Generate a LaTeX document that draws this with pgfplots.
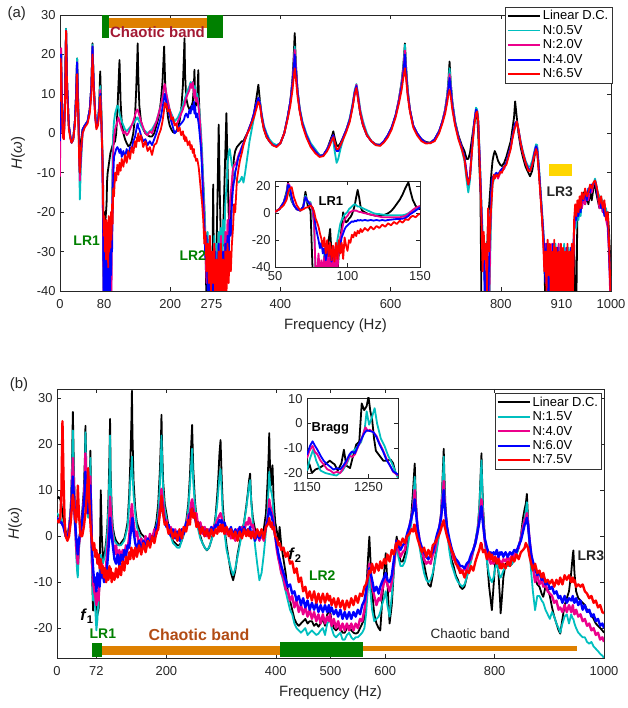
\documentclass[border=0pt]{standalone}
\usepackage{pgfplots}
\usepackage{pgfplotstable}
\pgfplotsset{compat=1.18}
\usepackage{fontspec}
\setmainfont{Liberation Sans}

\definecolor{mcyan}{rgb}{0,0.75,0.75}
\definecolor{mgreen}{rgb}{0,0.5,0}
\definecolor{morange}{rgb}{0.87,0.5,0}
\definecolor{mcrimson}{rgb}{0.64,0.1,0.2}
\definecolor{mbrown}{rgb}{0.7,0.3,0.08}
\definecolor{myellow}{rgb}{1,0.84,0}

\pgfplotsset{
  ln/.style={line width=1.8pt, line join=round},
  nz/.style={line width=2.4pt, line join=round},
  mat/.style={
    scale only axis, anchor=south west,
    axis line style={black!85, line width=0.5pt},
    tick style={black!85, line width=0.5pt},
    major tick length=4bp,
    tick align=inside,
    ticklabel style={font=\fontsize{13}{13}\selectfont, text=black!85},
    xticklabel style={yshift=-5bp},
    yticklabel style={xshift=-1bp},
    /pgf/number format/assume math mode=true,
    /pgf/number format/1000 sep={},
    label style={font=\fontsize{15}{15}\selectfont, text=black!85},
    xlabel style={yshift=-3bp},
    ylabel style={yshift=5bp},
    axis background/.style={fill=white},
    legend style={font=\fontsize{13}{15}\selectfont, draw=black!80, line width=0.5pt,
      inner sep=1.5bp, row sep=0bp, cells={anchor=west}},
    legend image code/.code={\draw[#1, line width=1.8pt] (0bp,0bp) -- (32bp,0bp);},
  },
  insetax/.style={mat, xticklabel style={yshift=4bp}},
}

% panel (a): frequency, linear D.C., N:0.5V, N:2.0V, N:4.0V, N:6.5V
\pgfplotstableread{
x lin c m b r
0 -2 -1 -11 -2 8
1 8 10 14 10 19
2 20 21 21.6 20 17
3 10 12 11 10 8
5 0 1 0 0 -1
7 -1 -1 -1.5 -1 -1.5
9 8 8 8 8 6
11 26.5 26.5 26 26 26
13 12 12 12 12 10
16 2 2 2 2 1
19 -1 -1 -1 -1 -1.5
21 -2.4 -2.4 -2.4 -2.4 -2.4
24 -1.5 -1.5 -1.5 -1.5 -1.5
27 3 3 3 3 2
29 9 9 9 9 7
31 19 19 18 18 15
33 8 8 7 7 5
35 -4 -8 -6 -5 -8
36 -6 -16.8 -12 -10 -10
38 -2 -8 -6 -5 -4
41 1 0 0 1 0
45 2 2 2 2 1.5
50 3 3 3 3 2.5
54 6 6 6 6 5
57 12 12 12 12 10
59 22.8 22.5 22 22 20
61 13 13 13 13 12
64 5 5 4 4 4
66 2 2 1.5 1.5 1
69 3 3 3 3 2
71 7 7 6 6 5
73 15.7 12 11 10 9.4
75 6 5 4 3 3
77 -5 -6 -6 -7 -6
78.5 -15 -25 -30 -28 -20
79.5 -45 -45 -45 -45 -26
80.5 -20 -45 -30 -35 -21
81.5 -25 -45 -45 -28 -30
82.5 -22 -45 -38 -45 -23
83.5 -20 -45 -45 -33 -32
84.5 -18 -45 -30 -45 -22
85.5 -12 -45 -45 -30 -28
86.5 -10 -45 -35 -45 -24
87.5 -9 -45 -45 -32 -34
88.5 -8 -45 -34 -45 -21
89.5 -7 -45 -45 -30 -30
90.5 -6 -45 -36 -45 -22
91.5 -5 -45 -45 -28 -29
92.5 -4.5 -45 -30 -36 -20
93.5 -4 -30 -40 -26 -27
94.5 -3.5 -15 -22 -30 -18
95.5 -3 -5 -12 -20 -23
96.5 -3 0 -5 -12 -14
98 -2.5 3 -1 -6 -16
100 -2 5 1 -5 -10
102 0 6 2 -4 -12
104 5 7 3 -3.5 -8
106 12 6.8 4 -4 -10.5
108 18.6 5 3 -5 -7.5
110 8 4 2 -4 -9.5
112 3 3 1 -6 -6.5
115 0 2 0 -4.5 -8.5
118 -1.5 1 0.5 -6 -5.5
121 -2.5 0.5 -0.5 -4 -7.5
124 -3.3 1 0 -5.5 -4.5
127 -3 1.5 1 -3.5 -6.5
130 -2 2 2 -4 -3.5
133 0 2.5 3 -2 -5
136 4 3 4.5 -1 -2
138 10 3.5 5.5 0.5 -3.5
140 18 4 6 2 -1
141 22.8 4 6 2.5 -2
142 15 3.5 5.5 1.5 0
144 7 3 4.5 1 -2
147 3 2 3 -0.5 -0.5
151 1 1 1.5 -2 -3.5
155 0 0.5 0 -1.5 -2
159 -0.5 0 -0.5 -3 -4.5
163 -0.8 0.5 0.5 -2 -3.5
167 -0.8 1 0 -3 -5.5
171 0 2 1.5 -1.5 -3
175 2 3 3 0 -2.5
179 4 5 5 2 -0.5
183 8 7 7 4 1
186 13 9 9 6.5 3
188 19 11 11 8 5
189 22 12 12 9 6
190 17 12 12.5 10 7.7
191 12 11.5 12 9.5 6.5
193 8 10 10 8 7.5
196 4 8 8 6 5.5
199 2 6 6 4.5 6
202 1 5 4.5 3 3.5
205 0.3 4 3 1.5 4
208 0.1 3 2.5 0 2
211 0.5 3.5 2 0.5 2.5
214 1.5 4 3 1 0.5
217 3 5 4 2 1.5
220 6 6 5 2.5 -0.5
223 12 7 6 3 0.5
225 20 8 7 3.5 -1.5
226 24.1 8.5 7 4 -0.5
227 15 9 8 4.5 -2
229 9 10 9 5 -1
232 7 11 10 4 -3
235 6 12 11 6 -2
237 6.5 13 12.5 5 -4
239 7 12 11.5 7 -3
241 8 13 13 6 -5
243 12 11 10 8 -4
244 16.1 10 9 5 -6
245 10 12 11 7 -5.5
247 7 9 8 4 -7
249 9 10 9 5 -6.5
251 16 8 7 3 -8
252 9 7 6 2 -9
254 3 4 3 -1 -12
256 -2 0 -2 -4 -15
258 -8 -5 -8 -10 -18
260 -13 -12 -15 -18 -22
262 -20 -18 -22 -25 -28
264 -28 -26 -30 -32 -25
266 -45 -32 -38 -26 -35
268 -45 -25 -28 -40 -28
270 -45 -36 -40 -30 -38
272 -45 -28 -26 -45 -26
274 -45 -38 -45 -32 -40
276 -45 -30 -30 -45 -30
278 -13 -40 -42 -34 -38
280 -45 -26 -28 -45 -28
282 -45 -36 -45 -30 -45
284 -30 -28 -32 -45 -32
286 -15 -34 -45 -36 -45
288 2.2 -25 -28 -28 -30
290 -15 -32 -40 -45 -42
292 -28 -24 -26 -32 -28
294 -32 -30 -45 -45 -45
296 -26 -22 -30 -30 -32
298 -15 -28 -38 -42 -45
300 -5 -18 -25 -28 -30
302 5.1 -14 -32 -36 -42
304 -8 -8 -22 -26 -28
306 -20 -5 -28 -32 -38
308 -25 -4 -18 -22 -30
310 -22 -6 -15 -26 -35
312 -14 -8 -12 -18 -28
314 -9 -9 -9 -14 -24
316 -6 -10 -8 -12 -18
318 -4.5 -11 -8 -10 -20
321 -3.5 -12 -7 -8 -12
324 -3 -12.5 -5.5 -6 -9
327 -2.5 -12 -4.5 -5 -6.6
330 -2 -11 -3.5 -3.5 -5
333 -2 -12.5 -2.5 -2.5 -3
336 -1 -10 -1.5 -1.5 -1.6
340 0 -6 0 0 0
344 1.5 -2 1.5 1.5 1
348 3 1 3 3 2.6
352 5 4 5 5 4
356 8.5 7 7.5 7.5 6
360 12.3 9 9 9 8
363 8 8 7.5 7.5 7
366 4 5 4.5 4.5 4
370 1 2 1.5 1.5 1
375 -1 0 -0.5 -0.5 -1
380 -2 -1.5 -2 -2 -2
386 -3 -2.5 -3 -3 -3
393 -3.3 -3 -3.3 -3.3 -3.5
400 -2.5 -2.5 -2.5 -2.5 -2.5
407 0 0 0 0 0
413 4 4 4 4 3.5
418 8 8 8 8 7
422 14 13 13 12.5 11
424 19 17 17 16 14
426 25.4 22 21.2 20 16.5
428 18 17 17 16 14
431 11 11 11 10.5 9.5
435 6 6.5 6 6 5.5
440 2.5 3 2.5 2.5 2
447 -0.5 0 -0.5 -0.5 -1
455 -3 -2.5 -3 -3 -3.5
463 -4.5 -4 -4.5 -4.5 -5
471 -5.5 -5.5 -5.8 -5.8 -6
478 -5.5 -5.5 -5.5 -5.5 -5.8
485 -4 -4 -4 -4 -4.5
490 -2 -2.5 -2.5 -2.5 -3
494 -0.5 -1.5 -1 -1 -1.5
496 0.5 -2 -0.5 -0.5 -1
499 -1.5 -5 -3 -3 -2.5
502 -3 -7.5 -4.5 -4.5 -4
505 -3.3 -6.5 -4.5 -4.5 -4
509 -2.5 -4 -3 -3 -3
514 -1 -1.5 -1 -1 -1.5
520 1 1 1 1 0.5
526 3.5 4 3.5 3.5 3
531 7 7.5 7 7 6.5
535 10.5 11 10.5 10.5 10
538 12 12.5 12.3 12 11.5
541 9 10 9.5 9 8.5
545 5 6 5.5 5 5
550 2 3 2.5 2 2
557 -0.5 0 -0.5 -0.5 -0.5
565 -2 -2 -2 -2 -2
573 -2.8 -3 -2.9 -2.9 -3
581 -2.9 -3 -3 -3 -3.2
588 -2 -2 -2 -2 -2.3
595 -0.5 -0.5 -0.5 -0.5 -1
602 1.5 1.5 1.5 1.5 1
609 4.5 4.5 4.5 4.5 4
615 8.5 8.5 8.5 8 7.5
620 13 13 12.5 12 11
623 17 16.5 16 15 14
626 22.8 22.5 21 20 16.5
628 17 17 16 15.5 14
631 11 11 10.5 10 9.5
635 6 6 6 6 5.5
641 2 2 2 2 1.5
648 0 0 0 0 -0.5
656 -1.5 -1.5 -1.5 -1.5 -2
664 -2.2 -2.4 -2.4 -2.4 -2.6
672 -2.4 -2.5 -2.5 -2.5 -2.5
680 -1.5 -1.5 -1.5 -1.5 -2
688 0.5 0.5 0.5 0.5 0
694 3 3 3 3 2.5
699 6 6 6 5.5 5
703 10 10 9.5 9 8
705 13.5 13 12 11.5 10
707 18.2 16.5 15 14 11
709 13 13 12 11.5 9.5
712 8 8 7.5 7 6
717 3 3 2.5 2.5 2
723 -0.5 -1 -1 -1 -1.5
729 -3 -4 -3.5 -3.5 -4
734 -4.5 -7 -6 -6 -6.5
738 -6.5 -12 -10 -10 -11
741 -6.5 -15 -13 -13 -13
744 -5 -12 -11 -11 -11
748 -1 -4 -3 -3 -4
752 3 3 3 3 2
755 4.5 6.5 6 6 5
757 4.7 6 5.5 5.5 5.5
759 0 4 3 3 3
761 -8 -3 -4 -4 -5
763 -15 -10 -12 -12 -13
765 -45 -18 -20 -20 -22
767 -45 -25 -30 -28 -35
769 -45 -32 -26 -30 -25
771 -45 -38 -40 -42 -32
773 -45 -45 -30 -35 -28
775 -30 -45 -45 -45 -40
777 -22 -45 -38 -45 -19
779 -18 -45 -45 -30 -30
781 -14 -30 -25 -22 -22
783 -10 -18 -15 -14 -18
785 -7 -13 -12 -11 -13
787 -5.5 -12 -11 -11.5 -10.5
789 -4.5 -11 -11 -10.5 -11.5
792 -5.5 -10.5 -10.5 -10 -10.5
795 -7 -11 -11.5 -10.5 -11
799 -8 -10 -10 -9.5 -9.8
802 -8.3 -9.5 -9.5 -9 -10
806 -7.5 -9 -9 -8.5 -8.5
810 -6 -7.5 -7.5 -7.5 -8
814 -4 -5.5 -5.5 -5.5 -6
818 -2 -3.5 -3.5 -3.5 -4
821 1 -1 -1 -1 -1.5
824 4 1 1 1 0.5
826 8.1 2.5 2.5 2.5 1.5
829 4 3 3 3 3
832 0 1 1 1 1
836 -3.5 -2 -2.5 -2.5 -2.5
840 -6 -4.5 -5 -5 -5
845 -8.5 -7 -7.5 -7.5 -7.5
850 -10 -8.5 -9 -9 -9.5
853 -10.9 -8.5 -9.5 -9.5 -9.6
857 -9.5 -7 -8 -8 -8
861 -6 -4.5 -5 -5 -5.5
864 -3.3 -2.8 -3.3 -3.3 -4
866 -4 -3 -4 -4 -5
869 -9 -8 -9 -9 -10
872 -15 -14 -15 -15 -16
875 -22 -20 -21 -21 -22
877 -26 -24 -25 -25 -28
879 -32 -30 -34 -30 -35
881 -45 -36 -28 -38 -30
883 -45 -30 -38 -28 -40
885 -45 -42 -30 -45 -27
887 -45 -28 -45 -32 -36
889 -45 -38 -32 -45 -28
891 -45 -30 -42 -30 -45
893 -45 -45 -28 -40 -30
895 -45 -32 -45 -28 -42
897 -45 -40 -30 -45 -27
899 -45 -28 -45 -32 -45
901 -45 -45 -33 -45 -29
903 -45 -31 -45 -29 -40
905 -45 -42 -28 -45 -30
907 -45 -29 -45 -33 -45
909 -45 -45 -31 -45 -28
911 -45 -32 -45 -30 -42
913 -45 -40 -30 -45 -29
915 -45 -28 -45 -31 -45
917 -45 -45 -32 -45 -30
919 -45 -30 -45 -29 -40
921 -45 -40 -30 -45 -28
923 -45 -29 -45 -33 -45
925 -45 -45 -32 -45 -30
927 -45 -31 -45 -29 -42
929 -45 -41 -30 -45 -28
931 -45 -30 -38 -31 -40
933 -28 -26 -25 -24 -22
935 -45 -20 -22 -20 -18
937 -45 -24 -19 -22 -21
939 -20 -18 -21 -19 -17
941 -18 -22 -18 -21 -20
943 -20 -17 -20 -17 -16
945 -16 -21 -17 -20 -19
947 -19 -16 -19 -16 -15
950 -15 -17 -16.7 -17 -16.7
953 -18 -15 -18 -15 -14
956 -16 -17 -15 -17 -16
959 -18 -14 -17 -14 -15
962 -15 -15 -14 -15 -13
965 -17 -13 -15 -13 -14
968 -14 -13 -13 -13 -12.5
971 -13 -11.5 -12 -12 -12
973 -15 -13 -13 -13 -13
976 -17 -15 -16 -16 -15
979 -19 -16 -19 -17 -18
982 -16 -18 -17 -19 -16
985 -20 -17 -20 -18 -19
988 -18 -20 -18 -21 -17
991 -21 -19 -21.9 -20 -22
994 -20 -22 -24 -22 -20
996 -24 -28 -30 -28 -26
998 -30 -35 -38.7 -36 -35
1000 -35 -42 -45 -40 -45
}\tabA

% inset of (a), 50-150 Hz
\pgfplotstableread{
x lin c m b r
50 1 1 1 1 1
53 3 3 3 3 3
56 8 8 8 8 6
58 16 15 14 14 10
59 23 22 22 21 15
60 15 17 21 20 18
61.5 9 10 12 12 19.4
63 6 6 6 6 12
65 3 3 3 3 6
67.5 2 2 2 2 2
69.5 5 5 5 5 3
71 16 13 12 12 4
72.5 6 8 9 9 4.5
74.5 2 8.3 7 6 5.8
76 -45 0 2 4 4
77 -45 -10 -8 0 1
78 -45 -45 -45 -10 -4
79 -45 -45 -45 -15 -6.7
80 -45 -45 -30 -20 -10
81 -45 -45 -45 -26 -15
82 -45 -45 -35 -22 -19
83 -45 -45 -45 -30 -25
84 -45 -30 -32 -26 -18
85 -45 -45 -45 -35 -30
86 -28 -28 -30 -25 -20
87 -20 -45 -45 -32 -32
88 -11.7 -32 -28 -24 -22
89 -30 -45 -45 -36 -35
90 -45 -26 -30 -26 -24
91 -45 -45 -45 -32 -36
92 -45 -30 -32 -24 -22
93 -45 -20 -45 -30 -34
94 -30 -14 -25 -22 -20
95 -20 -8 -18 -24 -30
96 -10 -5 -14 -18 -22
97 0.7 -3 -8 -15 -34
98 -4 -1 -5 -12 -18
99 -6.7 0 -3 -10 -24
100 -6 1 -2 -9 -28
101 -4 3 0 -8 -20
102 -3 4 1 -7 -22
103 -1 5 1.5 -6 -16
104 2 6 2 -6.5 -18
105 6 6.8 1.9 -5.5 -14
106 12 6 2 -6 -17
107 17.4 5 1.5 -5 -13
108 12 5 1 -5.5 -15
109 5 4.5 1 -5 -11.7
110 2 4 0.5 -5.5 -14
112 0.7 3 0 -5 -11
114 -0.5 2 -0.5 -5.5 -13
116 -1 1 -1 -5 -10
118 -1.5 0 -1.5 -5.5 -12
120 -2 -0.5 -2 -5 -9.5
122 -1.9 -0.6 -2.5 -5.5 -11
124 -1.5 -1 -3 -5 -8.5
126 -1 -1.2 -3 -5.5 -10
128 0 -1.5 -3 -5 -7.5
130 1.5 -1.5 -3 -4.8 -9
132 4 -1.5 -3 -4.5 -6.5
134 7 -1.5 -3 -4.3 -8
136 10 -1.5 -3 -4.3 -5.6
138 14 -1.5 -2.5 -4 -7
140 19 -1 -2 -3.5 -4.5
142 23 0 -0.5 -2 -5
143.5 16 1 1 -0.5 -3
145 10 2 2.5 0.5 -1.9
147 5.5 3 4 2 -3
149 3.5 4 5 3.5 -0.8
150 3 4.3 5.5 4.3 -0.6
}\tabAi

% panel (b): frequency, linear D.C., N:1.5V, N:4.0V, N:6.0V, N:7.5V
\pgfplotstableread{
x lin c m b r
0 8.2 5 4 4 3.5
3 8.5 4.5 3.5 3.5 3
6 8 4 3 3 4
8 7 3.5 3 3 9
10 5 3 2.5 2.5 25
12 3.5 2.5 2 2 12
14 2 1.5 1 1 3
16 1 0.5 0 0 0
19 0.5 0 -0.5 -0.5 -1
22 2 2 1.5 1 0
25 6 6 5 4 3
27 13 11 9 8 6
29 27 23 17 13 9
31 14 12 10 8 7
33 5 3 3 3 4
35 -1 -4 -2 0 3
37 -6 -8 -5 -3 6
38 -8 -9 -6 -4 11
40 -2 -3 -2 -1 5
43 2 1 1 1 0
46 5 3 3 3 0
49 10 8 8 7 2
51 17 14 12 10 4
52 24 22.6 18 14 5
54 13 11 9 8 8
56 6 5 5 5 12
57 5 4 5 5 14.8
59 8 7 9 8 8
61 18.6 17 13 11 3
62 11 9 7 6 1
63 2 0 1 1 0
64 -8 -8 -5 -3 -1
66 -16.2 -14 -10 -7 -3
68 -12 -12 -12 -10 -1.5
70 -10 -16 -13 -9 -4.5
72 -14 -20.5 -15 -12 -3
74 -17 -18 -12 -8 -6
76 -16 -12 -14 -10 -4
78 -8 -8 -9 -11 -7
80 10 -4 -8 -7 -5
82 0 -5 -6 -9 -8
84 -5 -6 -9 -8 -6.5
86 -4 -5 -7 -10 -9
88 -3 -4 -10 -7 -7
90 -1 -2 -6 -9 -10
92 2 1 -3 -6 -7.5
94 8 6 0 -3 -9.5
96 18 14 5 1 -6.5
97 25.5 21.9 8.6 4 -9
98 14 12 6 2 -7
100 6 5 2 0 -10
102 2 1 -1 -2 -8
105 0 -1 -4 -5 -9.5
108 -1 -1.5 -2 -6 -7
111 -1.5 -2 -5 -4 -9
114 -2 -2 -3 -6.5 -6.5
117 -1.5 -2 -5.5 -4 -8.5
120 -1 -1.5 -3 -5.5 -5.5
123 -0.5 -1 -4.5 -3 -7.5
126 1 0.5 -2 -4.5 -4.5
129 3 2 -3 -2 -6
132 9 7 0 -2.5 -3.5
134 16 12 3 0 -5
136 25 15 6 2 -2.5
137 31.6 17.3 7 3 -4
138 22 14 5 4 -3
140 12 9 3 1 -5
143 6 5 0 -1.5 -2.5
146 3 2 1 -3 -4.5
150 1.5 0.5 -2 -1 -2
154 0.5 -0.5 -0.5 -3 -4
158 0 -1 -2.5 -1 -1.5
162 -0.5 -1.5 0 -2.5 -3.5
166 -1 -1.5 -2 -0.5 -1
170 -1 -1.5 0.5 -2 -2.5
174 0 -1 -1 0 0
178 1 0 1.5 -1 -1.5
182 3.5 2.5 0.5 2 1
185 7 5 3 3 1.5
188 14 11 6 5 5
190 21 17 8 7 6.5
191 26.4 21.9 10.3 8 8.8
192 20 17 9 7.5 7
194 12 10 7 5 5
197 7 6 3.5 3.5 2.5
200 5 4 3.5 2 3
204 2 1 1 2.5 0.5
208 0.5 0 2 0 1.5
212 -1 -1.5 0 1.5 -0.5
216 -1.5 -2 1.5 -0.5 1
220 -2 -2.5 -0.5 1 -1
224 -2 -2.5 1 -1 1.5
228 -1 -1 -0.5 1.5 -0.5
232 0.5 0.5 2 0.5 2
236 3 2.5 1.5 3 1
240 7 6 4.5 2.5 3.5
243 13 11 5 5 2.5
245 19 15 7 4.5 5.5
247 24.2 19 8 6 6
249 15 12 6.5 5 4
252 8 7 4 4 5
255 4 3.5 5 2.5 2
258 2 1.5 2 3 3
262 0 -0.5 3 1 0.5
266 -1.5 -1.5 0.5 2 2
270 -2.5 -2.5 2 0 0
274 -3.1 -3 0 1.5 1.5
278 -2.5 -2.5 1.5 0 -0.5
282 -1 -1 0.5 2 1.5
286 1 0.5 2 1 0
290 4.5 4 2.5 2.5 1.5
293 9 7 3.5 2 0.5
295 13 10 4 3 2
297 18 13 4.5 3.5 1
299 20.9 14.6 5 3 2.5
301 13 10 4 3.5 1
303 7 5 3 2 2.5
306 2 1 2 3 0.5
310 -2 -3 0.5 1.5 2
314 -5 -5 1.5 0.5 0
318 -8 -7 -0.5 2 1.5
322 -9.6 -8.5 1 0 -0.5
326 -7.5 -7 -1 1.5 1
330 -4 -4.5 1.5 0 -1
334 -1.5 -2 0 2 1
338 1 0.5 2 0.5 -0.5
342 3 3 1 2 1.5
346 6.5 6 3 0.5 0
349 9.5 9 2.5 1.5 1.5
351 12 11 4 1 0
353 13.6 12.2 3.5 2 1
355 8 7.5 2 0 -0.5
358 4 3 2.5 1 1
362 1.5 -2 0 -1 -0.5
366 0.5 -6 1 0.5 1.5
370 0 -9.6 -1 -0.5 0
374 0.5 -8 0.5 1 1.5
378 1.5 -4 -1 0 -0.5
382 5 1 2 2 2
385 12 6 4 3.5 2.5
387 18 11 6 5 3
388 22.4 14 8 6 3.9
389 17 12 7 5.5 3
391 11 10 6 5 2
393 13 9 5 4 3
394 15.4 8 4.5 3.5 1.5
396 8 4 3 2 2
399 3 0 0 0 0
402 1 -3 -3 -2 -0.5
405 -1 -5 -5 -4 -2
407 2 -6 -6 -5 -1.5
410 -2 -8 -8 -6.5 -3
414 -5 -10 -9 -8 -2.5
418 -8 -12 -11.5 -9.5 -4.5
422 -12 -14 -12 -11 -3.5
426 -14 -16 -14 -10.5 -6
430 -16 -17 -13 -12.5 -5.5
434 -18 -19 -15.5 -12 -8
438 -19 -20 -14 -14 -7
442 -19.5 -20.5 -16.5 -13 -10
446 -19 -21 -15 -15 -9
450 -18.5 -20.5 -17 -13.5 -12
454 -18 -20 -15.5 -15.5 -11
458 -19 -21.5 -17.5 -14 -13.5
462 -18.5 -21 -16 -16 -12
466 -18.5 -20.5 -18 -14.5 -14
470 -19.5 -21 -16.5 -16 -12
474 -19 -21.5 -18.5 -14.5 -14.5
478 -19.7 -21.2 -17 -16.5 -12.5
482 -19 -20.5 -19 -15 -14.5
486 -18 -20 -17 -16.5 -12.5
490 -19.5 -21.5 -19 -15 -14.5
494 -17 -19 -17.5 -16.5 -12.5
497 -16.5 -18.5 -18.5 -15 -14
499 -16.1 -18 -17 -16.5 -13
502 -18.5 -20 -19.5 -15.5 -15
506 -20 -21.5 -18 -17 -13.5
510 -20.5 -22 -20 -16 -15.5
514 -20 -21.5 -18.5 -17.5 -13.5
518 -20 -21 -20.5 -16 -15.5
522 -21 -22.5 -19 -18 -14
526 -21 -22.5 -20.5 -16.5 -16
530 -20 -21.5 -19 -18 -14
534 -19.5 -21 -20.5 -16.5 -15.5
538 -20.5 -22 -19 -18 -13.5
542 -21 -22.5 -20.5 -16.5 -15
546 -21.2 -22 -19 -17.5 -13
550 -21 -22 -20 -16 -14.5
554 -20 -21.5 -18 -17 -12.5
558 -19 -21 -18.5 -15 -13
562 -18 -20 -16 -14 -11
565 -13 -17 -13 -12 -10.5
568 -6 -12 -9 -9 -9
571 -0.1 -8.9 -6 -7 -7.5
573 -5 -12 -8 -8 -8
576 -12 -16 -11 -9.5 -6
580 -17 -18.5 -13 -12 -8
584 -19 -18 -15 -11 -6
588 -20 -17.5 -13.5 -12.5 -7.5
591 -20.5 -16.5 -14 -11 -5.5
594 -15 -15 -12 -10 -7
598 -8 -13.5 -10 -9 -5
601 -3.7 -12 -9 -8 -6
604 -10 -15 -10.5 -9.5 -4
608 -19 -17.5 -12 -10 -5.5
612 -15 -13 -10 -8.5 -3
616 -7 -7 -6 -5 -4
620 -1 -2.5 -2 -1.5 -1.5
621 -0.1 -2 -1 -1 -2.5
624 -3 -4.5 -3 -2 -1
628 -5.5 -6.5 -4.5 -3 -2
632 -5.5 -6.5 -3.5 -2 -0.5
636 -4 -5.5 -3 -1.5 -1.5
640 -2 -3.5 0 0.5 0
644 1 0 2 2 0.5
648 5 3 4 4 1.5
651 10 7 6 5.5 1
653 14 11 8.5 7 2.5
654 15.8 12.9 10 8 2.4
656 8 7 6.5 5.5 1
659 2 1 2 2 -0.5
663 -2 -2.5 -1 -1 -2
667 -4.5 -5.5 -3 -2.5 -3.5
671 -6 -8 -5 -3.5 -2.5
675 -8.5 -9.5 -6 -4.5 -4.5
679 -10.5 -10 -5.5 -5 -3
683 -11 -9.5 -6 -4 -4.5
687 -8.5 -8 -4 -3.5 -2
691 -5 -5.5 -3 -1.5 -1.5
695 -2 -2.5 -0.5 0.5 -0.5
699 1.5 0.5 2 2 0.5
702 5 4 4 4 1.5
704 10 9 7 6 2.5
706 16 14 10 8.5 3
707 19 17.3 12 10 3.5
708 14 12 9 8 2.5
710 7 6 5 5 1.5
713 2 1 1.5 2 0
717 -2 -3 -1.5 -0.5 -1.5
721 -5 -6 -3 -2.5 -3
725 -6.5 -7.5 -5 -4 -4
729 -8.5 -9 -5.5 -5 -6
733 -9.5 -10 -7 -5.5 -6.5
737 -11 -10.5 -7 -6.5 -8
741 -11.5 -11 -8 -6.5 -7.5
745 -11 -10.5 -7 -7 -9
749 -9 -9 -7.5 -6 -7.5
753 -7 -7 -5.5 -5.5 -8
757 -5 -5.5 -5 -4 -6.5
761 -3 -3.5 -3 -3 -7.5
765 -1 -1 -1.5 -1.5 -5.5
769 1.5 2 1 1 -4
772 6 6 4 3 -3
774 12 11 6 5 -2
775 15 14 7 6 -1.5
776 18 16.5 8 6.5 -1.6
777 13 12 6.5 5 -2.5
779 6 5 3 2.5 -3.5
782 0 -1 -1 -0.5 -3
786 -5 -5.5 -3.5 -2.5 -5
790 -11 -8.5 -5 -4 -3.5
793 -14 -9.5 -6 -3.5 -5
795 -16.1 -10 -5.5 -4.5 -4
798 -11 -9 -6 -3.5 -5.5
801 -6 -7 -4.5 -4 -4.5
804 -5 -6 -5.5 -3 -6
807 -8 -7.5 -4.5 -4.5 -5
810 -14 -9 -6 -3.5 -7
811 -16.8 -9 -5.5 -4 -6
813 -14 -8.5 -6 -3.5 -7
816 -9 -7.5 -5 -4.5 -6
820 -6 -6.5 -5.5 -3.5 -7
824 -6 -6.5 -4.5 -4.5 -5.5
828 -6.5 -6.5 -5.5 -3.5 -6.5
832 -6 -6 -4 -4 -4.5
836 -5 -5 -4.5 -3 -5.5
840 -4 -4 -3 -3.5 -4
844 -2.5 -2.5 -2.5 -2 -5
848 0 0 -0.5 -1 -3.5
852 4 2.5 2 1 -3
855 6 4 3.5 2.5 -2.5
857 7 5.5 4 3 -1.5
859 9.2 7.4 5 4 -2
861 4 3 3 2.5 -2.5
864 -2 -3 -1 -1 -4.5
867 -5 -8 -4 -4 -6
870 -7 -12 -6.5 -5.5 -7.4
874 -9 -16.1 -10 -7 -6
878 -10.5 -13 -8.5 -8.5 -8
882 -11 -13 -10.5 -8 -7.5
886 -12.5 -14 -9.5 -9.5 -9
889 -13.2 -14.5 -11 -9 -8
893 -11 -16 -10.5 -10.5 -10
897 -11.5 -17 -12 -10 -9.5
901 -13 -18 -12.5 -11.5 -10.3
905 -15.5 -16.5 -13 -11 -9.5
909 -17.5 -17.5 -14.5 -12.5 -11
913 -19 -19 -14 -12 -9.5
917 -20.5 -20 -16 -13.5 -10.5
920 -21.2 -21 -15.5 -13 -9
924 -18 -19 -16.5 -14.5 -10.5
928 -15 -17.5 -15 -13 -8.5
932 -13.5 -17 -16.5 -14.5 -9.5
936 -12 -19 -15 -13.5 -8.5
940 -8 -17 -16.5 -14 -10
943 -4 -18 -15 -13 -9
944 -3.1 -18 -16 -14 -10
946 -8 -19 -17 -14.5 -9.5
949 -12 -20 -16 -13.5 -11
953 -13.5 -21 -17.5 -15 -10.5
957 -14 -21.5 -17 -14 -11
961 -14.5 -22 -18.5 -16 -10.5
965 -15 -22 -18 -15 -12
969 -16 -23 -19.5 -16.5 -12.5
973 -16.5 -23.4 -19 -16 -13.5
977 -17 -23 -20.5 -17.5 -13
981 -18 -24 -20 -17 -14.5
985 -19 -24.5 -21.5 -18.5 -14
989 -19.5 -25 -21 -18 -15.5
993 -20 -25.6 -22.5 -19.5 -15
997 -20.5 -26 -22 -19 -16.5
1000 -21 -26.5 -23 -20 -16.8
}\tabB

\begin{document}
\begin{tikzpicture}
\useasboundingbox (0,0) rectangle (628bp,708bp);

% ---------------- panel (a)
\begin{axis}[mat, at={(60bp,417bp)}, width=551bp, height=276bp,
  xmin=0, xmax=1000, ymin=-40, ymax=30,
  xtick={0,80,200,275,400,600,800,910,1000},
  ytick={-40,-30,...,30},
  xlabel={Frequency (Hz)}, ylabel={\textit{H}(\textit{ω})},
  legend style={at={(1.002,1.03)}, anchor=north east},
]
\addplot[black, ln] table[x=x,y=lin]{\tabA};
\addplot[mcyan, ln] table[x=x,y=c]{\tabA};
\addplot[magenta, ln] table[x=x,y=m]{\tabA};
\addplot[blue, ln] table[x=x,y=b]{\tabA};
\addplot[red, ln] table[x=x,y=r]{\tabA};
\legend{Linear D.C., N:0.5V, N:2.0V, N:4.0V, N:6.5V}
\addplot[fill=morange, draw=none, forget plot] coordinates {(89,26.7) (267,26.7) (267,29.2) (89,29.2)} -- cycle;
\addplot[fill=mgreen, draw=none, forget plot] coordinates {(76,24.2) (89,24.2) (89,30) (76,30)} -- cycle;
\addplot[fill=mgreen, draw=none, forget plot] coordinates {(267,24.2) (295,24.2) (295,30) (267,30)} -- cycle;
\addplot[fill=myellow, draw=none, forget plot] coordinates {(888,-10.9) (929,-10.9) (929,-7.9) (888,-7.9)} -- cycle;
\node[font=\fontsize{15}{15}\selectfont\bfseries, text=mcrimson] at (axis cs:177,25.6) {Chaotic band};
\node[font=\fontsize{14}{14}\selectfont\bfseries, text=mgreen] at (axis cs:48.4,-27.3) {LR1};
\node[font=\fontsize{14}{14}\selectfont\bfseries, text=mgreen] at (axis cs:241,-31.1) {LR2};
\node[font=\fontsize{14}{14}\selectfont\bfseries, text=black!85] at (axis cs:907,-14.9) {LR3};
\end{axis}

% inset of (a)
\begin{axis}[insetax, at={(275bp,441bp)}, width=145bp, height=86bp,
  xmin=50, xmax=150, ymin=-40, ymax=24,
  xtick={50,100,150}, ytick={-40,-20,0,20},
]
\addplot[black, ln] table[x=x,y=lin]{\tabAi};
\addplot[mcyan, ln] table[x=x,y=c]{\tabAi};
\addplot[magenta, ln] table[x=x,y=m]{\tabAi};
\addplot[blue, ln] table[x=x,y=b]{\tabAi};
\addplot[red, ln] table[x=x,y=r]{\tabAi};
\node[font=\fontsize{13}{13}\selectfont\bfseries] at (axis cs:88.5,9.4) {LR1};
\end{axis}

% ---------------- panel (b)
\begin{axis}[mat, at={(57bp,50bp)}, width=547bp, height=269bp,
  xmin=0, xmax=1000, ymin=-26.5, ymax=32,
  xtick={0,72,200,400,500,600,800,1000},
  ytick={-20,-10,...,30},
  xlabel={Frequency (Hz)}, ylabel={\textit{H}(\textit{ω})},
  legend style={at={(0.996,0.985)}, anchor=north east},
]
\addplot[black, ln] table[x=x,y=lin]{\tabB};
\addplot[mcyan, ln] table[x=x,y=c]{\tabB};
\addplot[magenta, nz] table[x=x,y=m]{\tabB};
\addplot[blue, nz] table[x=x,y=b]{\tabB};
\addplot[red, nz] table[x=x,y=r]{\tabB};
\legend{Linear D.C., N:1.5V, N:4.0V, N:6.0V, N:7.5V}
\addplot[fill=morange, draw=none, forget plot] coordinates {(82.8,-25.9) (407.5,-25.9) (407.5,-23.8) (82.8,-23.8)} -- cycle;
\addplot[fill=morange, draw=none, forget plot] coordinates {(558.8,-24.9) (949.9,-24.9) (949.9,-23.8) (558.8,-23.8)} -- cycle;
\addplot[fill=mgreen, draw=none, forget plot] coordinates {(64.6,-26.2) (82.8,-26.2) (82.8,-23.3) (64.6,-23.3)} -- cycle;
\addplot[fill=mgreen, draw=none, forget plot] coordinates {(407.5,-26.2) (558.8,-26.2) (558.8,-23.1) (407.5,-23.1)} -- cycle;
\node[font=\fontsize{14}{14}\selectfont\bfseries, text=mgreen] at (axis cs:83.8,-21.2) {LR1};
\node[font=\fontsize{16}{16}\selectfont\bfseries, text=mbrown] at (axis cs:259.6,-21.5) {Chaotic band};
\node[font=\fontsize{13.5}{13.5}\selectfont, text=black!85] at (axis cs:755.6,-21.2) {Chaotic band};
\node[font=\fontsize{14}{14}\selectfont\bfseries, text=mgreen] at (axis cs:485,-8.5) {LR2};
\node[font=\fontsize{14}{14}\selectfont\bfseries, text=black!85] at (axis cs:976,-4.3) {LR3};
\node[font=\fontsize{16}{16}\selectfont\bfseries] at (axis cs:54.8,-17.4) {\textit{f}\textsubscript{1}};
\node[font=\fontsize{16}{16}\selectfont\bfseries] at (axis cs:435,-4.1) {\textit{f}\textsubscript{2}};
\end{axis}

% inset of (b)
\begin{axis}[insetax, at={(307bp,230bp)}, width=91bp, height=80bp,
  xmin=1150, xmax=1298, ymin=-22, ymax=10.3,
  xtick={1150,1250}, ytick={-20,-10,0,10},
]
\addplot[black, ln] coordinates {(1150,-19) (1154,-16.4) (1158,-20) (1164,-18.5) (1170,-18) (1176,-17) (1182,-16) (1187,-15) (1192,-16) (1195,-16.5) (1200,-19) (1206,-16) (1210,-10.6) (1214,-17) (1220,-18) (1224,-14) (1230,-8.5) (1235,-7.3) (1239,8.1) (1243,5.4) (1247,7) (1250,10.8) (1253,5) (1256,1.4) (1259,-6) (1262,-11) (1268,-13) (1274,-15) (1280,-15) (1286,-14.6) (1290,-16) (1294,-20) (1298,-21.5)};
\addplot[mcyan, ln] coordinates {(1150,-19) (1155,-14) (1160,-10.6) (1165,-15) (1172,-19) (1180,-20) (1188,-20.5) (1198,-21) (1208,-19) (1215,-16) (1222,-12) (1230,-10) (1238,-7.5) (1244,-2) (1247,4.9) (1251,-0.5) (1255,2) (1260,6.2) (1264,0) (1270,-6) (1276,-9) (1282,-13) (1288,-16) (1293,-19) (1298,-22)};
\addplot[magenta, ln] coordinates {(1150,-14) (1154,-11) (1159,-9) (1163,-11.5) (1167,-12.5) (1172,-15) (1177,-16.5) (1183,-18.5) (1188,-19) (1193,-20) (1199,-19.5) (1204,-20) (1209,-18) (1214,-16) (1219,-13) (1224,-13.5) (1228,-12.5) (1233,-9.5) (1239,-6) (1245,-1.5) (1249,-3) (1252,-2.5) (1258,-3.5) (1263,-5) (1268,-8) (1274,-11) (1279,-14) (1285,-17) (1290,-19.5) (1298,-21)};
\addplot[blue, ln] coordinates {(1150,-12.6) (1155,-9) (1159,-7.2) (1163,-9) (1167,-10.6) (1172,-13) (1177,-15) (1183,-16.5) (1188,-17.5) (1193,-18.6) (1199,-18) (1204,-18.5) (1209,-17) (1214,-15) (1219,-12.5) (1223,-11.3) (1228,-12) (1233,-9) (1239,-6) (1243,-4) (1247,-2.8) (1252,-3) (1258,-3.5) (1263,-5.5) (1268,-8.5) (1274,-11.5) (1279,-14.6) (1285,-17) (1290,-19.3) (1298,-20.6)};
\node[font=\fontsize{13}{13}\selectfont\bfseries] at (axis cs:1188,-1.8) {Bragg};
\end{axis}

\node[font=\fontsize{15}{15}\selectfont, text=black!85] at (16.7bp,694.7bp) {(a)};
\node[font=\fontsize{15}{15}\selectfont, text=black!85] at (19bp,323bp) {(b)};
\end{tikzpicture}
\end{document}
